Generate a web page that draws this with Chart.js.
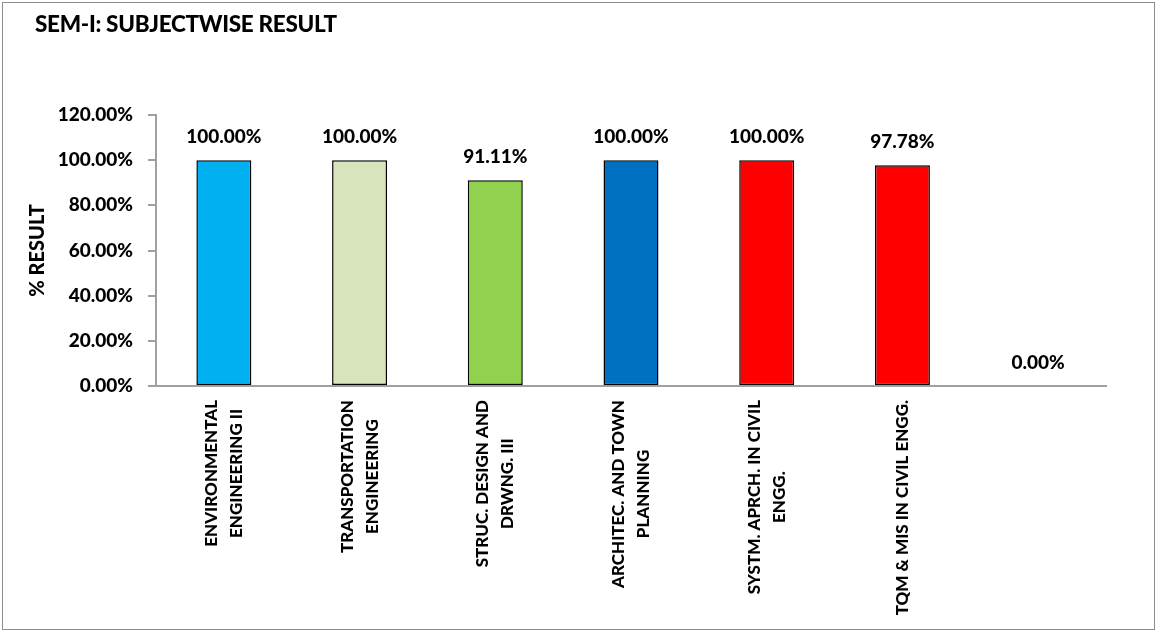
<!DOCTYPE html>
<html>
<head>
<meta charset="utf-8">
<script src="https://cdn.jsdelivr.net/npm/chart.js@4/dist/chart.umd.min.js"></script>
<style>
  html, body { margin: 0; padding: 0; background: #fff; }
  #wrap { position: relative; width: 1160px; height: 634px; overflow: hidden; }
  #frame { position: absolute; left: 2px; top: 2px; width: 1153px; height: 628px; border: 1px solid #8c8c8c; box-sizing: border-box; }
  #title { position: absolute; left: 35px; top: 10px; font: 900 22.5px Lato, "Open Sans", sans-serif; letter-spacing: -0.3px; color: #000; white-space: nowrap; }
  canvas { position: absolute; left: 0; top: 0; }
</style>
</head>
<body>
<div id="wrap">
  <div id="frame"></div>
  <canvas id="c" width="1160" height="634"></canvas>
  <div id="title">SEM-I: SUBJECTWISE RESULT</div>
</div>
<script>
const categories = [
  ["ENVIRONMENTAL", "ENGINEERING II"],
  ["TRANSPORTATION", "ENGINEERING"],
  ["STRUC. DESIGN AND", "DRWNG. III"],
  ["ARCHITEC. AND TOWN", "PLANNING"],
  ["SYSTM. APRCH. IN CIVIL", "ENGG."],
  ["TQM & MIS IN CIVIL ENGG."],
  [""]
];
const resultValues = [100, 100, 91.11, 100, 100, 97.78, 0];
const barColors = ["#00B0F0", "#D8E4BC", "#92D050", "#0070C0", "#FF0000", "#FF0000", "#FF0000"];
const yAxisTitle = "% RESULT";
const yMin = 0, yMax = 120, yStep = 20;

const FONT = 'Lato, "Open Sans", sans-serif';
const W = "900";
const fmt = v => Number(v).toFixed(2) + "%";

const dataLabelPlugin = {
  id: "dataLabels",
  afterDatasetsDraw(chart) {
    const ctx = chart.ctx;
    const meta = chart.getDatasetMeta(0);
    ctx.save();
    ctx.font = W + " 19px " + FONT;
    ctx.fillStyle = "#000";
    ctx.textAlign = "center";
    ctx.textBaseline = "middle";
    meta.data.forEach((bar, i) => {
      ctx.fillText(fmt(resultValues[i]), bar.x, bar.y - 23);
    });
    ctx.restore();
  }
};

const xLabelPlugin = {
  id: "xLabels",
  afterDraw(chart) {
    const ctx = chart.ctx;
    const xs = chart.scales.x;
    ctx.save();
    ctx.font = W + " 17px " + FONT;
    ctx.fillStyle = "#000";
    ctx.textAlign = "center";
    ctx.textBaseline = "middle";
    const lineH = 25;
    categories.forEach((lines, i) => {
      const x = xs.getPixelForTick(i);
      const maxW = Math.max(...lines.map(l => ctx.measureText(l).width));
      ctx.save();
      ctx.translate(x, xs.top + 14);
      ctx.rotate(-Math.PI / 2);
      const n = lines.length;
      lines.forEach((l, j) => {
        ctx.fillText(l, -maxW / 2, (j - (n - 1) / 2) * lineH);
      });
      ctx.restore();
    });
    ctx.restore();
  }
};

new Chart(document.getElementById("c"), {
  type: "bar",
  data: {
    labels: categories,
    datasets: [{
      data: resultValues,
      backgroundColor: barColors,
      borderColor: "#000",
      borderWidth: 1.5,
      borderSkipped: false,
      barPercentage: 0.405,
      categoryPercentage: 1
    }]
  },
  options: {
    responsive: false,
    animation: false,
    devicePixelRatio: 1,
    layout: { padding: { top: 115, right: 54, left: 0, bottom: 0 } },
    plugins: { legend: { display: false }, title: { display: false }, tooltip: { enabled: false } },
    scales: {
      x: {
        grid: { display: false, drawTicks: false },
        border: { display: true, color: "#a0a0a0", width: 2 },
        ticks: { display: false },
        afterFit(scale) { scale.height = 248; }
      },
      y: {
        min: yMin, max: yMax,
        grid: { drawOnChartArea: false, drawTicks: true, tickLength: 8, color: "#a0a0a0", lineWidth: 2 },
        border: { display: true, color: "#a0a0a0", width: 2 },
        ticks: {
          stepSize: yStep,
          padding: 15,
          color: "#000",
          font: { family: FONT, size: 19, weight: W },
          callback: v => fmt(v)
        },
        title: {
          display: true,
          text: yAxisTitle,
          color: "#000",
          font: { family: FONT, size: 20, weight: W },
          padding: { top: 26, bottom: 0 }
        },
        afterFit(scale) { scale.width = 156; }
      }
    }
  },
  plugins: [dataLabelPlugin, xLabelPlugin]
});
</script>
</body>
</html>
